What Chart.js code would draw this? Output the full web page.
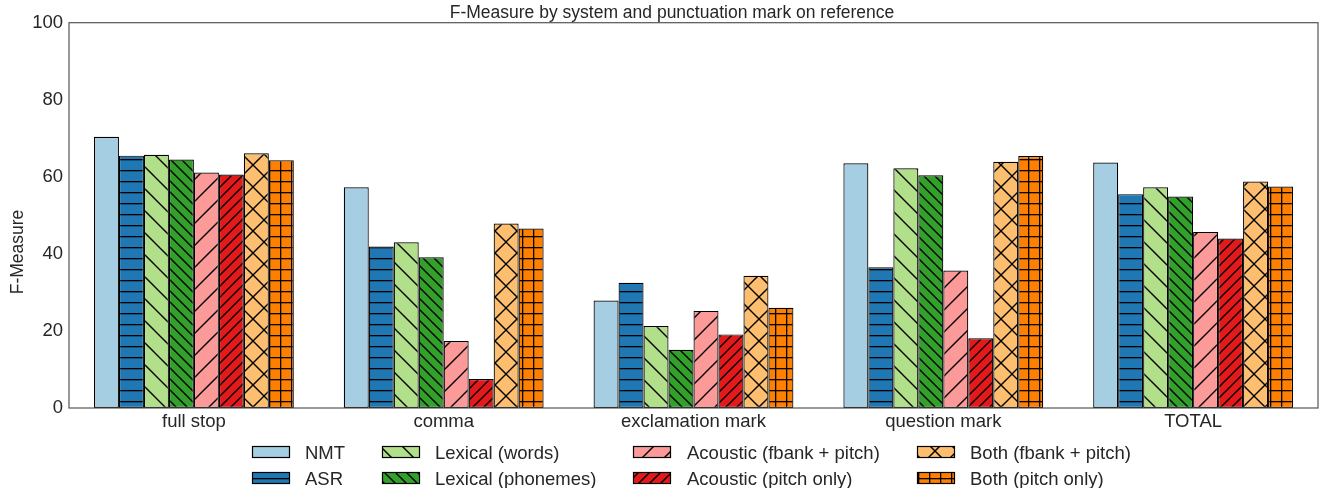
<!DOCTYPE html>
<html>
<head>
<meta charset="utf-8">
<script src="https://cdn.jsdelivr.net/npm/chart.js@4/dist/chart.umd.min.js"></script>
<style>
  html, body { margin: 0; padding: 0; background: #fff; }
  #wrap { width: 1320px; height: 488px; position: relative; }
</style>
</head>
<body>
<div id="wrap"><canvas id="c" width="1320" height="488"></canvas></div>
<script>
// F-Measure per system, one value per punctuation category
const categories = ['full stop', 'comma', 'exclamation mark', 'question mark', 'TOTAL'];
const seriesNames = ['NMT', 'ASR', 'Lexical (words)', 'Lexical (phonemes)',
  'Acoustic (fbank + pitch)', 'Acoustic (pitch only)', 'Both (fbank + pitch)', 'Both (pitch only)'];
const nmt                = [70.4, 57.3, 27.9, 63.5, 63.7];
const asr                = [65.5, 41.9, 32.5, 36.5, 55.5];
const lexicalWords       = [65.7, 43.0, 21.3, 62.2, 57.3];
const lexicalPhonemes    = [64.5, 39.1, 15.1, 60.4, 54.9];
const acousticFbankPitch = [61.1, 17.4, 25.2, 35.7, 45.7];
const acousticPitchOnly  = [60.6,  7.5, 19.1, 18.1, 44.0];
const bothFbankPitch     = [66.1, 47.9, 34.3, 63.9, 58.8];
const bothPitchOnly      = [64.3, 46.6, 26.0, 65.4, 57.5];
const yTicks = [0, 20, 40, 60, 80, 100];

const seriesValues = [nmt, asr, lexicalWords, lexicalPhonemes,
  acousticFbankPitch, acousticPitchOnly, bothFbankPitch, bothPitchOnly];

// styling
const colors  = ['#a6cee3', '#1f78b4', '#b2df8a', '#33a02c', '#fb9a99', '#e31a1c', '#fdbf6f', '#ff7f00'];
const hatches = ['', '-', '\\', '\\\\', '/', '//', 'x', '+'];
const FONT = '"Liberation Sans", Arial, Helvetica, sans-serif';
const TEXT = '#262626';
const TITLE = 'F-Measure by system and punctuation mark on reference';
const Y_TITLE = 'F-Measure';

const canvas = document.getElementById('c');
const mainCtx = canvas.getContext('2d');

// hatch tiles: single diagonal = 22px pitch, doubled/straight = 11px pitch
function hatchFill(color, hatch) {
  if (!hatch) return color;
  const wide = (hatch === '\\' || hatch === '/' || hatch === 'x');
  const s = wide ? 22 : 11;
  const t = document.createElement('canvas');
  t.width = s; t.height = s;
  const g = t.getContext('2d');
  g.fillStyle = color;
  g.fillRect(0, 0, s, s);
  g.strokeStyle = '#000';
  g.fillStyle = '#000';
  g.lineWidth = 1.35;
  const back = () => {
    for (const o of [-s, 0, s]) {
      g.beginPath(); g.moveTo(o - 1, -1); g.lineTo(o + s + 1, s + 1); g.stroke();
    }
  };
  const fwd = () => {
    for (const o of [-s, 0, s]) {
      g.beginPath(); g.moveTo(o - 1, s + 1); g.lineTo(o + s + 1, -1); g.stroke();
    }
  };
  if (hatch === '-') g.fillRect(0, 5, s, 1.3);
  else if (hatch === '\\' || hatch === '\\\\') back();
  else if (hatch === '/' || hatch === '//') fwd();
  else if (hatch === 'x') { back(); fwd(); }
  else if (hatch === '+') { g.fillRect(0, 5, s, 1.3); g.fillRect(5, 0, 1.3, s); }
  return mainCtx.createPattern(t, 'repeat');
}

const datasets = seriesNames.map((name, i) => ({
  label: name,
  data: seriesValues[i],
  backgroundColor: hatchFill(colors[i], hatches[i]),
  borderColor: '#000',
  borderWidth: 1.2,
  borderSkipped: false,
  categoryPercentage: 0.8,
  barPercentage: 1.0
}));

// axes frame on all four sides, plus title and y-axis label
const framePlugin = {
  id: 'frame',
  afterDatasetsDraw(chart) {
    const { ctx, chartArea: a } = chart;
    ctx.save();
    ctx.strokeStyle = '#555';
    ctx.lineWidth = 1.2;
    ctx.strokeRect(a.left, a.top, a.right - a.left, a.bottom - a.top);

    ctx.fillStyle = TEXT;
    ctx.textBaseline = 'alphabetic';
    ctx.textAlign = 'center';
    ctx.font = '17.5px ' + FONT;
    ctx.fillText(TITLE, 672, 18);

    ctx.translate(23, 252);
    ctx.rotate(-Math.PI / 2);
    ctx.font = '17.5px ' + FONT;
    ctx.fillText(Y_TITLE, 0, 0);
    ctx.restore();
  }
};

// two-row legend below the axes, filled column by column
const legendPlugin = {
  id: 'gridLegend',
  afterDraw(chart) {
    const { ctx } = chart;
    const swatchX = [252, 382, 633, 917];
    const textX = [305, 435, 687, 970];
    const rowTop = [446, 472];
    ctx.save();
    ctx.font = '18.5px ' + FONT;
    ctx.textBaseline = 'alphabetic';
    ctx.textAlign = 'left';
    chart.data.datasets.forEach((ds, i) => {
      const col = Math.floor(i / 2), row = i % 2;
      const x = swatchX[col], y = rowTop[row];
      ctx.fillStyle = ds.backgroundColor;
      ctx.fillRect(x, y, 38, 12);
      ctx.strokeStyle = '#000';
      ctx.lineWidth = 1.2;
      ctx.strokeRect(x + 0.5, y + 0.5, 37, 11);
      ctx.fillStyle = TEXT;
      ctx.fillText(ds.label, textX[col], y + 12.5);
    });
    ctx.restore();
  }
};

new Chart(canvas, {
  type: 'bar',
  data: { labels: categories, datasets },
  options: {
    responsive: false,
    animation: false,
    events: [],
    layout: { padding: { left: 0, right: 2, top: 22.7, bottom: 0 } },
    plugins: {
      legend: { display: false },
      tooltip: { enabled: false },
      title: { display: false }
    },
    scales: {
      x: {
        grid: { display: false, drawTicks: false },
        border: { display: false },
        ticks: { color: TEXT, font: { family: FONT, size: 18.5 }, padding: 3, maxRotation: 0 },
        afterFit(scale) { scale.height = 80; }
      },
      y: {
        min: 0,
        max: 100,
        grid: { display: false, drawTicks: false },
        border: { display: false },
        afterBuildTicks(scale) { scale.ticks = yTicks.map(v => ({ value: v })); },
        ticks: { color: TEXT, font: { family: FONT, size: 18.5 }, padding: 6 },
        afterFit(scale) { scale.width = 69; }
      }
    }
  },
  plugins: [framePlugin, legendPlugin]
});
</script>
</body>
</html>
